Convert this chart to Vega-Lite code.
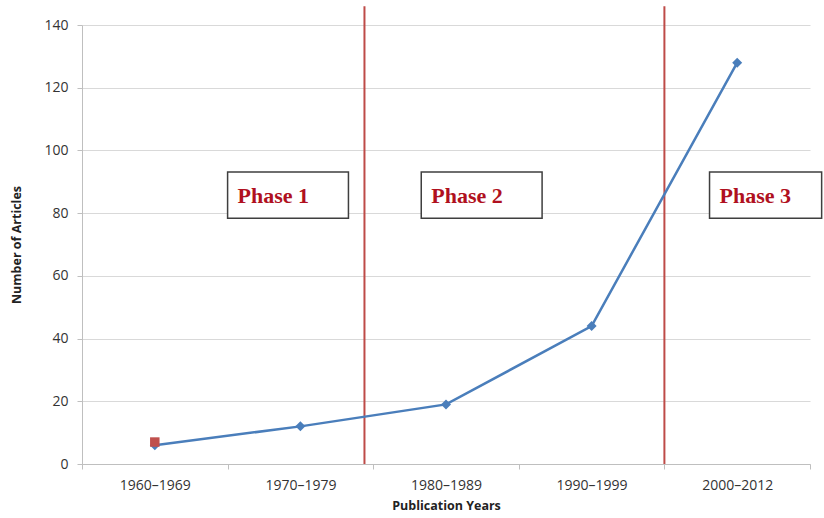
{
  "$schema": "https://vega.github.io/schema/vega-lite/v6.json",
  "width": 728,
  "height": 439,
  "autosize": "none",
  "padding": {"left": 82, "top": 25, "right": 14, "bottom": 54},
  "background": "white",
  "config": {"view": {"stroke": null}, "font": "Open Sans"},
  "datasets": {
    "articles": [
      {"period": "1960–1969", "articles": 6},
      {"period": "1970–1979", "articles": 12},
      {"period": "1980–1989", "articles": 19},
      {"period": "1990–1999", "articles": 44},
      {"period": "2000–2012", "articles": 128}
    ],
    "first": [{"period": "1960–1969", "articles": 7}],
    "boundaries": [
      {"year": 1979.4, "bottom": 0, "top": 146},
      {"year": 2000, "bottom": 0, "top": 146}
    ],
    "phases": [
      {"phase": "Phase 1", "start": 1970, "end": 1978.3, "lo": 78.4, "hi": 93.1},
      {"phase": "Phase 2", "start": 1983.3, "end": 1991.6, "lo": 78.4, "hi": 93.1},
      {"phase": "Phase 3", "start": 2003.1, "end": 2010.8, "lo": 78.4, "hi": 93.1}
    ]
  },
  "layer": [
    {
      "layer": [
        {
          "data": {"name": "phases"},
          "mark": {"type": "rect", "fill": "white", "stroke": "#3F3F3F", "strokeWidth": 1.5},
          "encoding": {
            "x": {"field": "start", "type": "quantitative", "scale": {"domain": [1960, 2010], "nice": false, "zero": false}, "axis": null},
            "x2": {"field": "end"},
            "y": {
              "field": "lo", "type": "quantitative", "scale": {"domain": [0, 140], "nice": false},
              "axis": {
                "title": "Number of Articles", "values": [0, 20, 40, 60, 80, 100, 120, 140],
                "grid": true, "gridColor": "#D9D9D9", "domainColor": "#BFBFBF", "tickColor": "#BFBFBF", "tickSize": 5,
                "labelFont": "Open Sans", "labelFontSize": 14, "labelColor": "#333333", "labelPadding": 9,
                "titleFont": "Open Sans", "titleFontSize": 12.5, "titleFontWeight": "bold", "titleColor": "#222222", "titlePadding": 20
              }
            },
            "y2": {"field": "hi"}
          }
        },
        {
          "data": {"name": "phases"},
          "mark": {"type": "text", "font": "Liberation Serif", "fontWeight": "bold", "fontSize": 22, "color": "#B01020", "align": "left", "baseline": "alphabetic", "dx": 10, "dy": -15},
          "encoding": {
            "x": {"field": "start", "type": "quantitative", "axis": null},
            "y": {"field": "lo", "type": "quantitative"},
            "text": {"field": "phase"}
          }
        },
        {
          "data": {"name": "boundaries"},
          "mark": {"type": "rule", "color": "#BE4B48", "strokeWidth": 2},
          "encoding": {
            "x": {"field": "year", "type": "quantitative", "axis": null},
            "y": {"field": "bottom", "type": "quantitative"},
            "y2": {"field": "top"}
          }
        }
      ]
    },
    {
      "layer": [
        {
          "data": {"name": "articles"},
          "mark": {"type": "line", "color": "#4A7EBB", "strokeWidth": 2.5},
          "encoding": {
            "x": {
              "field": "period", "type": "nominal", "sort": null,
              "scale": {"type": "band", "paddingInner": 0, "paddingOuter": 0},
              "axis": {
                "title": "Publication Years", "tickBand": "extent", "labelAngle": 0,
                "labelFont": "Open Sans", "labelFontSize": 14, "labelColor": "#333333", "labelPadding": 9,
                "tickSize": 5, "tickColor": "#BFBFBF", "domainColor": "#BFBFBF", "grid": false,
                "titleFont": "Open Sans", "titleFontSize": 12.5, "titleFontWeight": "bold", "titleColor": "#222222", "titlePadding": 7
              }
            },
            "y": {
              "field": "articles", "type": "quantitative",
              "axis": {
                "title": "Number of Articles", "values": [0, 20, 40, 60, 80, 100, 120, 140],
                "grid": true, "gridColor": "#D9D9D9", "domainColor": "#BFBFBF", "tickColor": "#BFBFBF", "tickSize": 5,
                "labelFont": "Open Sans", "labelFontSize": 14, "labelColor": "#333333", "labelPadding": 9,
                "titleFont": "Open Sans", "titleFontSize": 12.5, "titleFontWeight": "bold", "titleColor": "#222222", "titlePadding": 20
              }
            }
          }
        },
        {
          "data": {"name": "articles"},
          "mark": {"type": "point", "shape": "diamond", "filled": true, "color": "#4A7EBB", "size": 100, "opacity": 1},
          "encoding": {
            "x": {"field": "period", "type": "nominal", "sort": null},
            "y": {"field": "articles", "type": "quantitative"}
          }
        },
        {
          "data": {"name": "first"},
          "mark": {"type": "point", "shape": "square", "filled": true, "color": "#C0504D", "size": 90, "opacity": 1},
          "encoding": {
            "x": {"field": "period", "type": "nominal", "sort": null},
            "y": {"field": "articles", "type": "quantitative"}
          }
        }
      ]
    }
  ],
  "resolve": {"scale": {"x": "independent"}}
}
